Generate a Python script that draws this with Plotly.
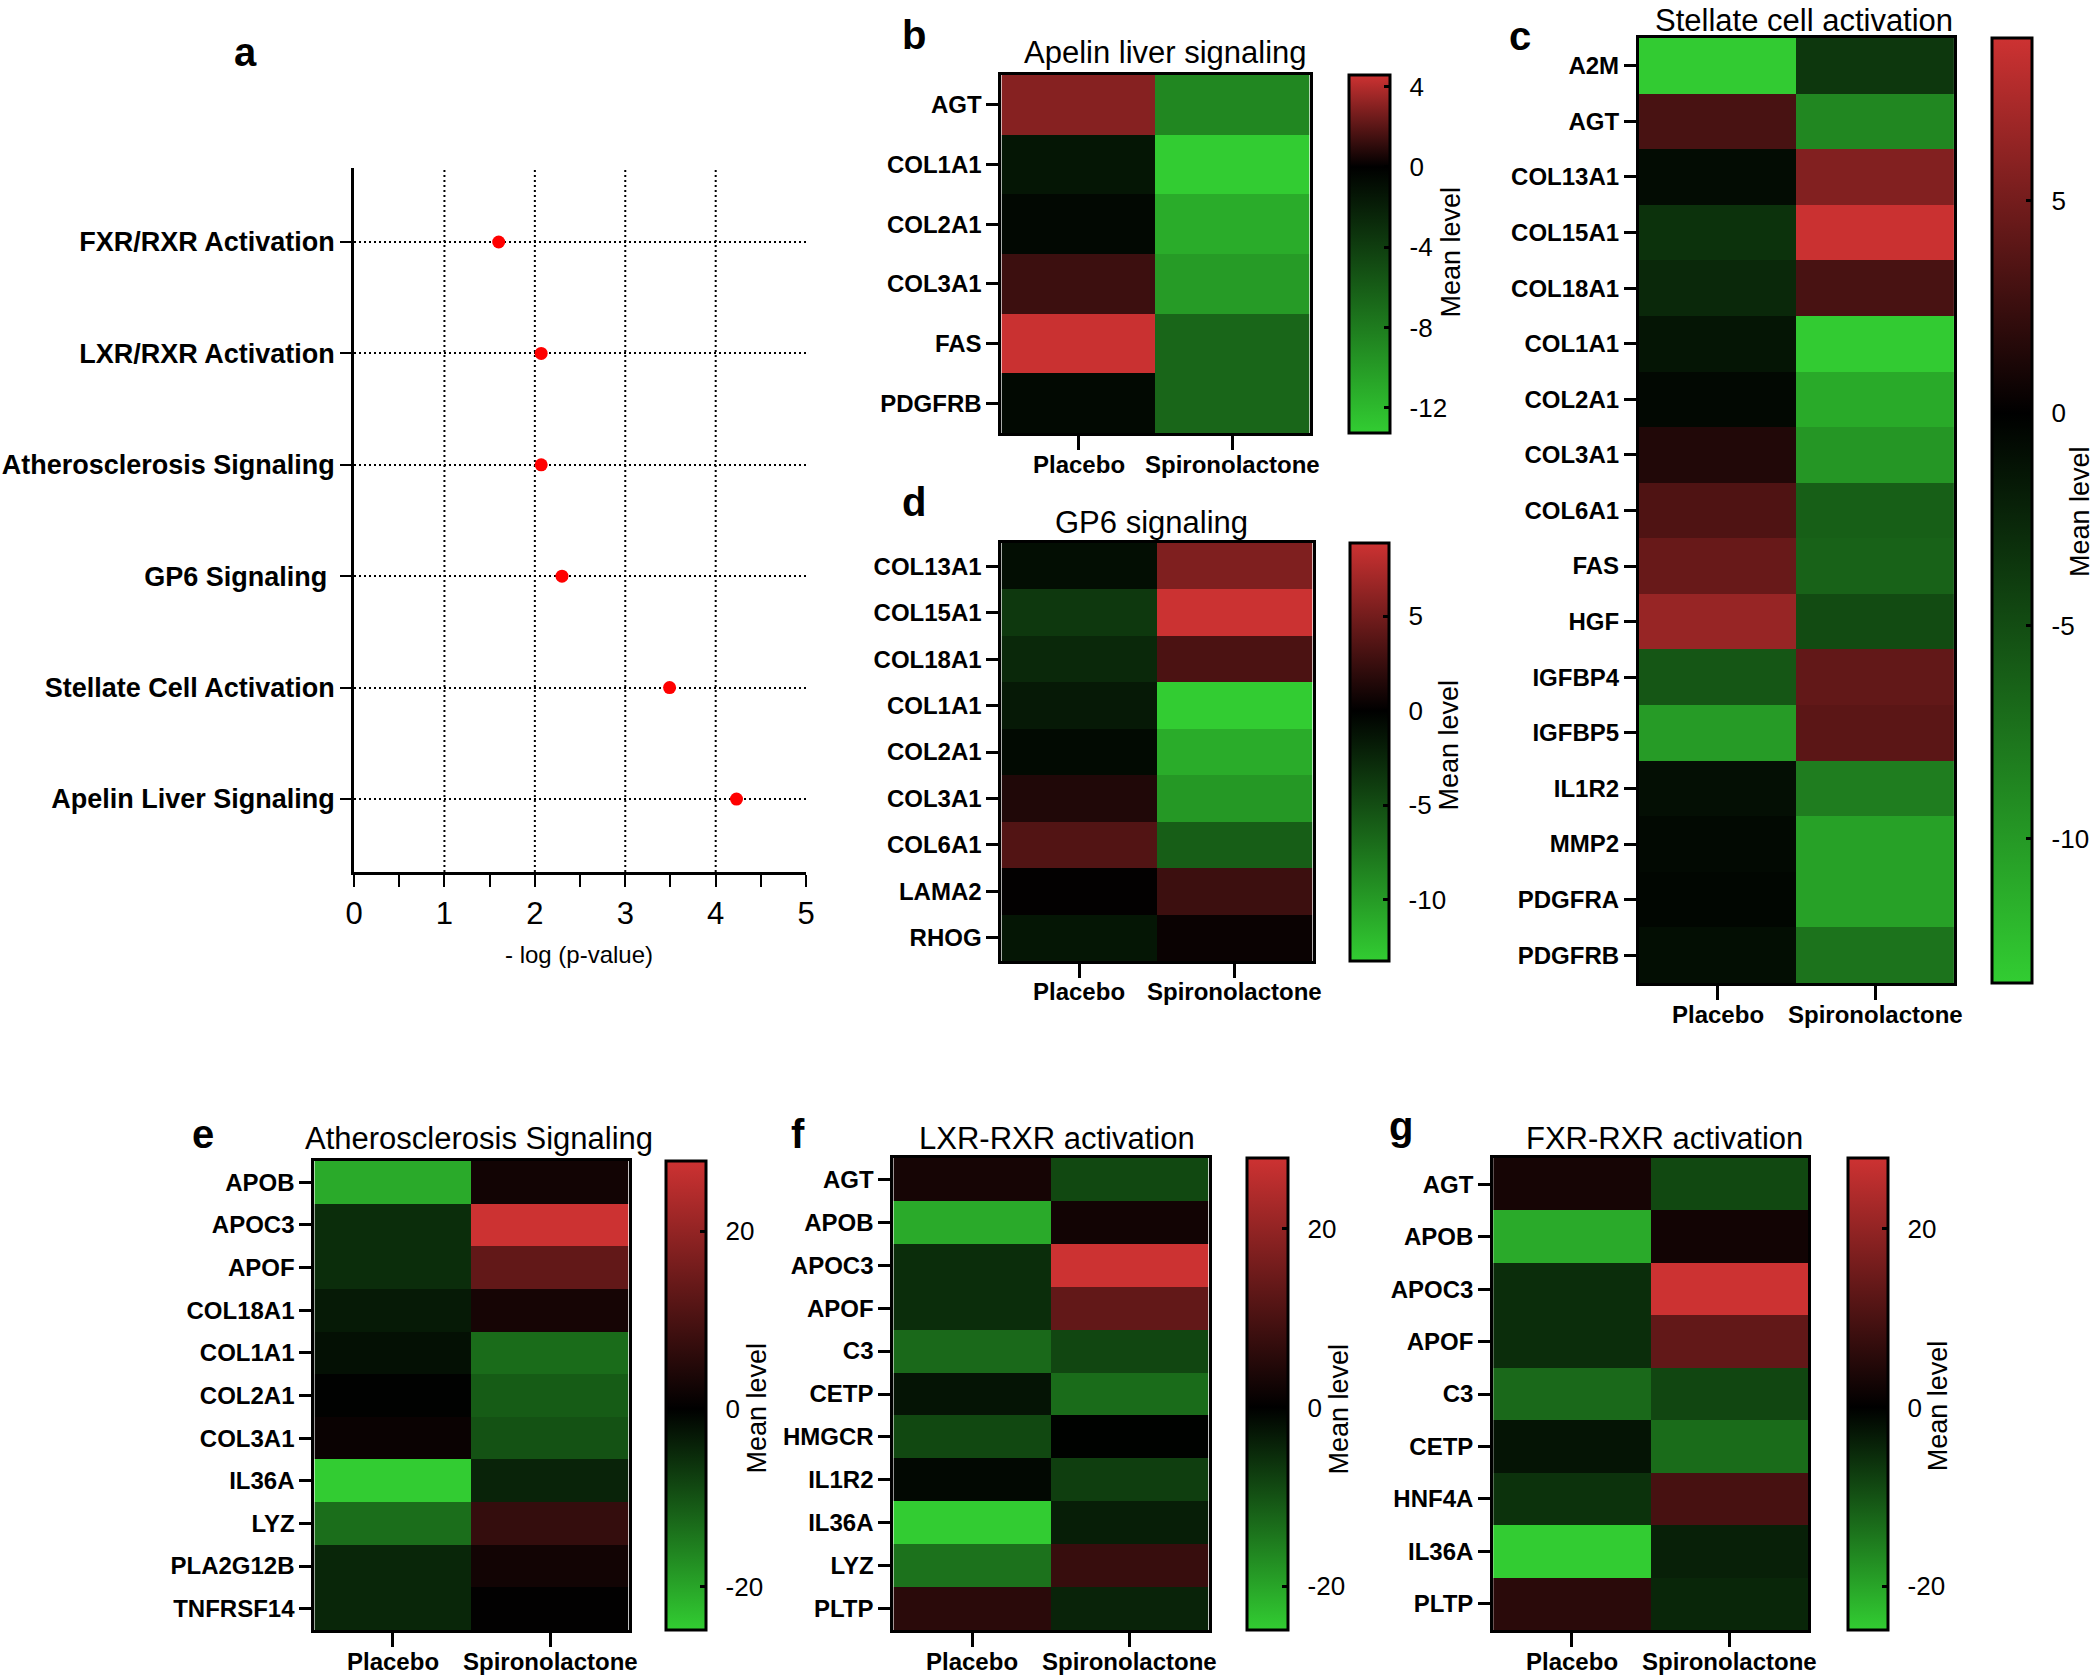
import plotly.graph_objects as go

W, H = 2100, 1675
FONT = "Liberation Sans, Arial, Helvetica, sans-serif"
GREEN, BLACK, RED = "#32CD32", "#000000", "#CD3232"

# ---------------- data ----------------
# panel a
pathways = ["Apelin Liver Signaling", "Stellate Cell Activation", "GP6 Signaling\u00a0",
            "Atherosclerosis Signaling", "LXR/RXR Activation", "FXR/RXR Activation"]
neg_log_p = [4.23, 3.49, 2.30, 2.07, 2.07, 1.60]
a_xticks = [0, 1, 2, 3, 4, 5]
a_minor = [0.5, 1.5, 2.5, 3.5, 4.5]
a_vgrid = [1, 2, 3, 4]

groups = ["Placebo", "Spironolactone"]

b_genes = ["AGT", "COL1A1", "COL2A1", "COL3A1", "FAS", "PDGFRB"]
b_placebo = [3.0, -1.4, -0.5, 1.35, 4.5, -0.6]
b_spiro = [-8.7, -13.2, -11.1, -10.0, -6.6, -6.6]
b_range = [-13.25, 4.58]
b_ticks = [4, 0, -4, -8, -12]

c_genes = ["A2M", "AGT", "COL13A1", "COL15A1", "COL18A1", "COL1A1", "COL2A1", "COL3A1",
           "COL6A1", "FAS", "HGF", "IGFBP4", "IGFBP5", "IL1R2", "MMP2", "PDGFRA", "PDGFRB"]
c_placebo = [-13.3, 3.1, -0.8, -3.3, -2.6, -1.4, -0.5, 1.4, 3.4, 4.5, 6.5, -5.6, -10.1,
             -1.0, -0.6, -0.4, -0.9]
c_spiro = [-3.6, -8.8, 5.6, 8.7, 3.1, -13.3, -11.1, -9.8, -6.2, -6.4, -4.9, 4.2, 3.9,
           -8.2, -10.5, -10.5, -7.5]
c_range = [-13.4, 8.83]
c_ticks = [5, 0, -5, -10]

d_genes = ["COL13A1", "COL15A1", "COL18A1", "COL1A1", "COL2A1", "COL3A1", "COL6A1", "LAMA2", "RHOG"]
d_placebo = [-0.9, -3.6, -2.6, -1.6, -0.65, 1.4, 3.55, 0.15, -1.4]
d_spiro = [5.5, 8.8, 3.25, -13.2, -11.1, -9.8, -6.1, 2.6, 0.43]
d_range = [-13.25, 8.88]
d_ticks = [5, 0, -5, -10]

e_genes = ["APOB", "APOC3", "APOF", "COL18A1", "COL1A1", "COL2A1", "COL3A1", "IL36A", "LYZ",
           "PLA2G12B", "TNFRSF14"]
e_placebo = [-20.7, -5.5, -5.5, -3.2, -2.0, -0.3, 1.3, -24.8, -13.4, -4.6, -4.6]
e_spiro = [2.5, 27.8, 13.3, 3.0, -13.1, -11.2, -10.0, -4.3, 7.1, 2.4, 0.3]
e_range = [-24.9, 27.9]
e_ticks = [20, 0, -20]

f_genes = ["AGT", "APOB", "APOC3", "APOF", "C3", "CETP", "HMGCR", "IL1R2", "IL36A", "LYZ", "PLTP"]
f_placebo = [3.0, -20.7, -5.5, -5.5, -12.8, -2.4, -8.7, -1.0, -24.8, -13.9, 5.7]
f_spiro = [-8.7, 2.5, 27.8, 13.3, -8.5, -13.1, -0.2, -7.5, -3.6, 7.5, -4.3]
f_range = [-24.9, 27.9]
f_ticks = [20, 0, -20]

g_genes = ["AGT", "APOB", "APOC3", "APOF", "C3", "CETP", "HNF4A", "IL36A", "PLTP"]
g_placebo = [3.0, -20.7, -5.5, -5.5, -12.8, -2.4, -6.1, -24.8, 5.7]
g_spiro = [-8.7, 2.5, 27.8, 13.3, -8.5, -13.1, 9.6, -3.9, -4.6]
g_range = [-24.9, 27.9]
g_ticks = [20, 0, -20]

# ---------------- layout helpers ----------------
def fx(x):
    return x / W


def fy(y):
    return 1 - y / H


panels = [
    dict(n=2, letter="b", title="Apelin liver signaling", genes=b_genes, p=b_placebo, s=b_spiro,
         rng=b_range, ticks=b_ticks, box=(1001, 1312, 75, 433), cb=(1352, 1393),
         tpos=(1166, 52), lpos=(913, 35), mpos=(1454, 252), xlab=465),
    dict(n=3, letter="c", title="Stellate cell activation", genes=c_genes, p=c_placebo, s=c_spiro,
         rng=c_range, ticks=c_ticks, box=(1644, 1962, 38, 983), cb=(2000, 2040),
         tpos=(1811, 20), lpos=(1524, 36), mpos=(2089, 512), xlab=1014),
    dict(n=4, letter="d", title="GP6 signaling", genes=d_genes, p=d_placebo, s=d_spiro,
         rng=d_range, ticks=d_ticks, box=(1001, 1315, 543, 961), cb=(1353, 1392),
         tpos=(1152, 522), lpos=(913, 502), mpos=(1452, 745), xlab=991),
    dict(n=5, letter="e", title="Atherosclerosis Signaling", genes=e_genes, p=e_placebo, s=e_spiro,
         rng=e_range, ticks=e_ticks, box=(308, 625, 1161, 1630), cb=(663, 703),
         tpos=(474, 1138), lpos=(196, 1134), mpos=(754, 1408), xlab=1661),
    dict(n=6, letter="f", title="LXR-RXR activation", genes=f_genes, p=f_placebo, s=f_spiro,
         rng=f_range, ticks=f_ticks, box=(892, 1210, 1158, 1630), cb=(1249, 1290),
         tpos=(1057, 1138), lpos=(796, 1134), mpos=(1342, 1409), xlab=1661),
    dict(n=7, letter="g", title="FXR-RXR activation", genes=g_genes, p=g_placebo, s=g_spiro,
         rng=g_range, ticks=g_ticks, box=(1497, 1815, 1158, 1630), cb=(1855, 1895),
         tpos=(1670, 1138), lpos=(1404, 1126), mpos=(1946, 1406), xlab=1661),
]

fig = go.Figure()
annotations = []
shapes = []

# ---------------- panel a ----------------
fig.add_trace(go.Scatter(
    x=neg_log_p, y=list(range(len(pathways))), mode="markers",
    marker=dict(color="#FF0000", size=13, line=dict(width=0)),
    xaxis="x", yaxis="y", showlegend=False, hoverinfo="skip"))

for v in a_vgrid:
    shapes.append(dict(type="line", xref="x", yref="y domain", x0=v, x1=v, y0=0, y1=1,
                       line=dict(color="black", width=2, dash="2px,3px"), layer="below"))

layout = dict(
    width=W, height=H, margin=dict(l=0, r=0, t=0, b=0),
    paper_bgcolor="white", plot_bgcolor="white", showlegend=False,
    font=dict(family=FONT, color="black"),
    xaxis=dict(domain=[fx(348), fx(804)], anchor="y", range=[0, 5],
               tickvals=a_xticks, ticktext=[str(v) for v in a_xticks],
               ticks="outside", ticklen=12, tickwidth=2, tickcolor="black",
               minor=dict(tickvals=a_minor, ticks="outside", ticklen=12, tickwidth=2,
                          tickcolor="black", showgrid=False),
               showline=True, linewidth=2.5, linecolor="black", showgrid=False,
               zeroline=False, tickfont=dict(size=31, family=FONT, color="black"),
               fixedrange=True),
    yaxis=dict(domain=[fy(872), fy(168)], anchor="x", range=[-0.655, 5.664],
               tickvals=list(range(len(pathways))), ticktext=pathways,
               ticks="outside", ticklen=11, tickwidth=2, tickcolor="black",
               showline=True, linewidth=2.5, linecolor="black",
               showgrid=True, gridcolor="black", gridwidth=2, griddash="2px,3px",
               zeroline=False,
               tickfont=dict(size=27, family=FONT, color="black", weight="bold"),
               fixedrange=True),
)

annotations.append(dict(text="a", x=fx(239), y=fy(52), xref="paper", yref="paper",
                        showarrow=False, xanchor="center", yanchor="middle",
                        font=dict(size=40, family=FONT, color="black", weight="bold")))
annotations.append(dict(text="- log (p-value)", x=fx(575), y=fy(954), xref="paper", yref="paper",
                        showarrow=False, xanchor="center", yanchor="middle",
                        font=dict(size=24, family=FONT, color="black")))

# ---------------- heatmaps ----------------
for pn in panels:
    n = pn["n"]
    zmin, zmax = pn["rng"]
    f0 = -zmin / (zmax - zmin)
    x0, x1, y0, y1 = pn["box"]
    c0, c1 = pn["cb"]
    z = [[a, b] for a, b in zip(pn["p"], pn["s"])]
    fig.add_trace(go.Heatmap(
        z=z, x=groups, y=pn["genes"], xaxis=f"x{n}", yaxis=f"y{n}",
        zmin=zmin, zmax=zmax,
        colorscale=[[0, GREEN], [f0, BLACK], [1, RED]],
        hoverinfo="skip",
        colorbar=dict(x=fx(c0), xanchor="left", xpad=0, xref="paper",
                      y=fy(y1), yanchor="bottom", ypad=0, yref="paper",
                      len=y1 - y0, lenmode="pixels",
                      thickness=c1 - c0, thicknessmode="pixels",
                      outlinewidth=3, outlinecolor="black",
                      tickvals=pn["ticks"],
                      ticktext=["\u00a0\u2009" + str(t) for t in pn["ticks"]],
                      ticks="inside", ticklen=7, tickwidth=3, tickcolor="black",
                      tickfont=dict(size=26, family=FONT, color="black")),
    ))
    layout[f"xaxis{n}"] = dict(
        domain=[fx(x0), fx(x1)], anchor=f"y{n}", showline=True, mirror=True,
        type="category", categoryarray=groups, range=[-0.5, len(groups) - 0.5],
        autorange=False,
        linewidth=3, linecolor="black", ticks="outside", ticklen=14, tickwidth=3,
        tickcolor="black", showgrid=False, zeroline=False, fixedrange=True,
        showticklabels=False)
    layout[f"yaxis{n}"] = dict(
        domain=[fy(y1), fy(y0)], anchor=f"x{n}", autorange="reversed",
        showline=True, mirror=True, linewidth=3, linecolor="black",
        ticks="outside", ticklen=12, tickwidth=3, tickcolor="black",
        showgrid=False, zeroline=False, fixedrange=True,
        tickfont=dict(size=24, family=FONT, color="black", weight="bold"))
    for gi, grp in enumerate(groups):
        annotations.append(dict(text=grp, x=gi, xref=f"x{n}", y=fy(pn["xlab"]), yref="paper",
                                showarrow=False, xanchor="center", yanchor="middle",
                                font=dict(size=24, family=FONT, color="black", weight="bold")))
    annotations.append(dict(text=pn["title"], x=fx(pn["tpos"][0]), y=fy(pn["tpos"][1]),
                            xref="paper", yref="paper", showarrow=False,
                            xanchor="center", yanchor="middle",
                            font=dict(size=31, family=FONT, color="black")))
    annotations.append(dict(text=pn["letter"], x=fx(pn["lpos"][0]), y=fy(pn["lpos"][1]),
                            xref="paper", yref="paper", showarrow=False,
                            xanchor="center", yanchor="middle",
                            font=dict(size=40, family=FONT, color="black", weight="bold")))
    annotations.append(dict(text="Mean level", x=fx(pn["mpos"][0]), y=fy(pn["mpos"][1]),
                            xref="paper", yref="paper", showarrow=False, textangle=-90,
                            xanchor="center", yanchor="middle",
                            font=dict(size=27, family=FONT, color="black")))

layout["annotations"] = annotations
layout["shapes"] = shapes
fig.update_layout(**layout)
fig.write_html("out.html", config={"displayModeBar": False},
               post_script="document.body.style.margin='0';document.body.style.padding='0';")
